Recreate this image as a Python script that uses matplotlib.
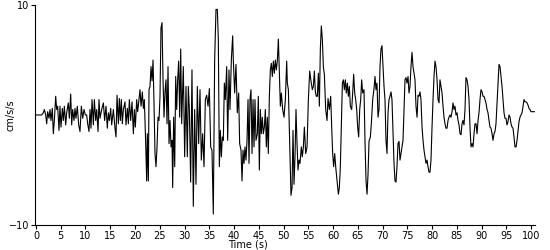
import matplotlib
matplotlib.use("Agg")
import matplotlib.pyplot as plt

# accelerogram trace (time in s, acceleration in cm/s/s)
time_s = [
    0.00, 1.15, 1.48, 1.69, 1.96, 2.16, 2.36, 2.63, 2.83, 3.03, 3.30, 3.50, 3.71, 3.98,
    4.18, 4.38, 4.65, 4.85, 5.05, 5.32, 5.52, 5.73, 6.00, 6.20, 6.53, 6.74, 7.01, 7.21,
    7.41, 7.68, 7.88, 8.08, 8.35, 8.62, 8.89, 9.16, 9.43, 9.70, 9.97, 10.24, 10.44, 10.71,
    10.91, 11.11, 11.32, 11.59, 11.79, 12.06, 12.26, 12.53, 12.73, 12.93, 13.27, 13.61,
    13.87, 14.14, 14.41, 14.62, 14.82, 15.09, 15.29, 15.63, 15.96, 16.16, 16.37, 16.64,
    16.84, 17.04, 17.24, 17.44, 17.65, 17.98, 18.18, 18.45, 18.66, 18.86, 19.13, 19.40,
    19.67, 19.87, 20.07, 20.34, 20.54, 20.81, 21.01, 21.22, 21.48, 21.69, 21.89, 22.16,
    22.36, 22.49, 22.70, 22.83, 23.03, 23.24, 23.44, 23.64, 23.84, 24.04, 24.24, 24.45,
    24.65, 24.85, 25.05, 25.25, 25.46, 25.66, 25.86, 26.06, 26.26, 26.47, 26.67, 26.87,
    27.07, 27.28, 27.48, 27.61, 27.81, 28.02, 28.22, 28.42, 28.62, 28.82, 29.03, 29.23,
    29.43, 29.76, 30.03, 30.30, 30.57, 30.77, 30.98, 31.24, 31.51, 31.78, 32.05, 32.32,
    32.59, 32.86, 33.13, 33.40, 33.67, 33.94, 34.21, 34.48, 34.75, 35.02, 35.29, 35.55,
    35.82, 36.09, 36.36, 36.63, 36.83, 37.04, 37.24, 37.44, 37.64, 37.84, 38.05, 38.25,
    38.52, 38.72, 38.99, 39.19, 39.46, 39.73, 39.86, 40.13, 40.40, 40.67, 40.94, 41.14,
    41.41, 41.62, 41.82, 42.02, 42.22, 42.42, 42.63, 42.83, 43.03, 43.23, 43.43, 43.64,
    43.84, 44.04, 44.24, 44.44, 44.71, 44.91, 45.12, 45.32, 45.52, 45.72, 45.92, 46.13,
    46.33, 46.53, 46.73, 46.93, 47.14, 47.34, 47.54, 47.74, 47.95, 48.15, 48.35, 48.55,
    48.75, 48.96, 49.16, 49.36, 49.56, 49.83, 50.10, 50.37, 50.64, 50.77, 50.98, 51.31,
    51.51, 51.72, 51.92, 52.12, 52.32, 52.52, 52.73, 52.93, 53.13, 53.33, 53.60, 53.80,
    54.01, 54.21, 54.48, 54.75, 55.02, 55.29, 55.55, 55.82, 56.03, 56.23, 56.43, 56.63,
    56.83, 57.04, 57.24, 57.44, 57.64, 57.84, 58.05, 58.25, 58.52, 58.79, 58.99, 59.26,
    59.53, 59.73, 59.93, 60.13, 60.34, 60.54, 60.81, 61.08, 61.28, 61.48, 61.68, 61.89,
    62.09, 62.29, 62.49, 62.69, 62.90, 63.10, 63.30, 63.50, 63.77, 63.97, 64.17, 64.38,
    64.58, 64.78, 64.98, 65.18, 65.39, 65.59, 65.79, 65.99, 66.26, 66.46, 66.67, 66.87,
    67.07, 67.27, 67.54, 67.74, 68.01, 68.28,
    68.48, 68.68, 68.88, 69.09, 69.29, 69.49, 69.69, 69.89, 70.10, 70.30, 70.50, 70.70,
    70.90, 71.11, 71.31, 71.51, 71.71, 71.91, 72.12, 72.32, 72.52, 72.72, 72.92, 73.13,
    73.33, 73.53, 73.73, 73.93, 74.14, 74.34, 74.54, 74.74, 74.94, 75.15, 75.35, 75.55,
    75.75, 75.95, 76.16, 76.36, 76.56, 76.76, 76.97, 77.17, 77.37, 77.57, 77.77, 77.98,
    78.18, 78.38, 78.58, 78.78, 78.99, 79.19, 79.39, 79.59, 79.79, 80.00, 80.20, 80.40,
    80.60, 80.80, 81.01, 81.21, 81.41, 81.61, 81.81, 82.02, 82.22, 82.42, 82.62, 82.82,
    83.03, 83.23, 83.43, 83.63, 83.83, 84.04, 84.24, 84.44, 84.64, 84.84, 85.05, 85.25,
    85.45, 85.65, 85.85, 86.06, 86.26, 86.46, 86.66, 86.86, 87.07, 87.27, 87.47, 87.67,
    87.87, 88.08, 88.28, 88.48, 88.68, 88.88, 89.09, 89.29, 89.49, 89.69, 89.89, 90.10,
    90.30, 90.50, 90.70, 90.90, 91.11, 91.31, 91.51, 91.71, 91.91, 92.12, 92.32, 92.52,
    92.72, 92.92, 93.13, 93.33, 93.53, 93.73, 93.93, 94.14, 94.34, 94.54, 94.74, 94.94,
    95.15, 95.35, 95.55, 95.75, 95.96, 96.16, 96.36, 96.56, 96.76, 96.97, 97.17, 97.37,
    97.57, 97.77, 97.98, 98.18, 98.38, 98.58, 98.78, 98.98, 99.19, 99.39, 99.59, 99.79,
    99.99, 100.40, 100.80,
]

accel = [
    0.0, 0.0, 0.2, 0.5, 0.0, -0.8, 0.3, -0.3, 0.5, -0.5, 0.6, -1.7, -0.5, 1.7,
    0.5, 0.8, -1.4, 0.8, -1.1, 0.6, -0.5, 0.8, -0.9, 0.2, 1.1, -0.3, 1.9, -0.9,
    0.5, -0.5, 0.6, -0.3, 0.8, -0.9, -1.5, 0.8, -0.3, 0.5, 0.0, 0.0, -0.8, -1.5,
    0.5, -1.2, 1.4, -0.9, 1.4, -0.5, 0.5, -1.5, 1.4, -0.3, 0.5, 1.1,
    -0.5, 0.8, -1.2, 0.2, -0.5, 0.6, -0.9, 0.5, -1.2, -2.0, 1.8, -0.8,
    1.5, -0.5, 1.4, -0.8, 0.5, 1.2, -0.9, 0.6, -0.8, 1.4, -0.5, 1.2,
    -1.7, 0.5, -1.1, 1.4, 0.3, 1.4, 2.3, 0.8, 2.1, 0.6, 1.4, -2.6,
    -6.0, -1.7, -6.0, 2.3, 2.6, 4.4, 3.1, 5.0, 1.1, -3.5, -4.7, -2.9,
    -0.2, -0.5, 1.7, 7.9, 8.4, 3.2, -0.2, 2.1, 3.2, -0.8, 4.4, -2.6,
    -0.5, -2.9, -2.3, -6.6, -0.2, -4.7, 3.5, 0.5, 3.2, 4.9, -0.2, 6.0,
    -0.8, 4.4, -3.8, 2.6, -3.8, 2.6, 0.5, -6.1, 4.1, -8.3, 0.5, -6.3,
    2.6, -2.6, 2.3, -4.1, -1.7, -4.7, 1.4, 1.8, 0.8, 2.4, -2.9, -3.2,
    -9.0, 5.0, 9.6, 9.6, 6.9, -4.7, -1.4, -3.8, -2.0, -2.3, 2.9, 1.4,
    4.4, -2.3, 4.1, 0.5, 5.0, 7.2, 5.0, 2.0, 4.6, 0.2, 2.0, -2.6,
    -3.2, -6.0, -3.2, -4.4, -2.9, -4.1, -2.3, 1.4, -4.4, 1.4, 2.3, -3.5,
    1.4, -2.9, 1.4, -2.3, -1.7, 1.7, -5.0, 0.5, -1.7, -0.2, -1.7, -1.1,
    0.5, -2.9, -0.2, -3.5, 1.7, 4.1, 4.7, 3.5, 4.9, 3.8, 5.0, 4.1,
    4.9, 6.9, 3.8, 0.8, 2.0, 0.5, -0.2, 1.4, 4.9, 2.9, 2.3, -3.5,
    -7.3, -6.6, -1.4, -6.3, -3.8, 0.5, -2.6, -5.0, -4.1, -4.4, -2.9, -3.8,
    -2.9, -1.1, -3.5, -2.9, 1.4, 4.0, 3.1, 2.3, 2.6, 4.0, 2.1, 1.7,
    1.7, 3.8, 0.8, 6.0, 8.1, 6.9, 4.4, 3.7, 0.5, -0.5, 1.5, 0.5,
    1.7, -1.1, -3.5, -4.7, -3.5, -4.7, -6.0, -7.2, -6.6, -4.7, -1.1, 2.9,
    3.2, 2.3, 3.2, 2.0, 2.9, 1.7, 2.6, 0.8, 0.5, 2.0, 3.7, 2.0,
    1.4, 0.5, -1.1, -2.0, 0.5, 1.4, 3.2, 2.0, 2.3, -2.4, -6.0, -7.2,
    -5.4, -2.4, -2.0, -0.8, 1.4, 2.4,
    3.5, 2.3, 2.9, -0.2, 0.5, 4.4, 6.0, 6.3, 4.4, 2.6, 1.4, -2.3,
    -3.5, 0.2, 1.4, 1.7, 2.1, 1.4, -1.7, -4.4, -6.0, -6.1, -4.7, -2.6,
    -2.4, -4.1, -3.5, -2.9, -2.3, 0.5, 3.2, 3.4, 2.9, 3.5, 2.0, 2.6,
    4.4, 5.7, 4.4, 3.8, 3.2, 0.8, -0.2, 1.8, 1.7, 2.1, 1.4, -1.1,
    -2.3, -3.2, -3.8, -4.4, -4.1, -4.7, -5.2, -5.2, -4.1, -1.1, 1.4, 3.5,
    4.9, 4.4, 3.2, 1.4, 1.1, 3.2, 2.6, 2.0, 0.8, -0.2, -0.8, -1.2,
    -1.2, -0.5, -0.2, 0.0, -0.2, 0.3, 1.1, 0.5, 0.8, 0.0, 0.2, -0.5,
    -0.9, -1.7, -1.8, -0.8, -0.5, -0.9, 0.5, 3.4, 3.2, 2.6, 1.4, -1.1,
    -2.9, -2.6, -2.9, -1.7, -0.8, -0.8, -1.7, -0.5, 0.2, 1.4, 2.3, 2.1,
    1.7, 1.7, 1.4, 1.1, 0.5, 0.2, -0.5, -1.1, -1.2, -1.7, -2.3, -1.7,
    -1.5, -0.8, 1.1, 2.9, 4.6, 4.4, 3.5, 2.6, 1.4, 0.2, -0.3, -0.3,
    -0.9, -0.6, 0.0, -0.2, -0.8, -1.1, -1.2, -2.0, -2.9, -2.9, -2.3, -1.4,
    -0.6, -0.2, 0.0, 0.2, 0.8, 1.4, 1.2, 1.2, 1.1, 0.9, 0.6, 0.5,
    0.3, 0.3, 0.3,
]

x_ticks = list(range(0, 101, 5))
y_ticks = [-10, 10]

fig = plt.figure(figsize=(5.5, 2.5), dpi=100)
ax = fig.add_axes([35 / 550, 25 / 250, 500 / 550, 220 / 250])

ax.plot(time_s, accel, color="black", linewidth=0.8)

ax.set_xlim(-0.2, 100.8)
ax.set_ylim(-10, 10)
ax.set_xticks(x_ticks)
ax.set_yticks(y_ticks)
ax.tick_params(axis="both", direction="out", length=3, width=0.8,
               labelsize=7, pad=1, colors="black")

for side in ("top", "right"):
    ax.spines[side].set_visible(False)
for side in ("left", "bottom"):
    ax.spines[side].set_linewidth(0.8)

ax.set_xlabel("Time (s)", fontsize=7)
ax.xaxis.set_label_coords(0.426, -0.068)
ax.set_ylabel("cm/s/s", fontsize=7)
ax.yaxis.set_label_coords(-0.038, 0.5)

fig.savefig("out.png", dpi=100)
